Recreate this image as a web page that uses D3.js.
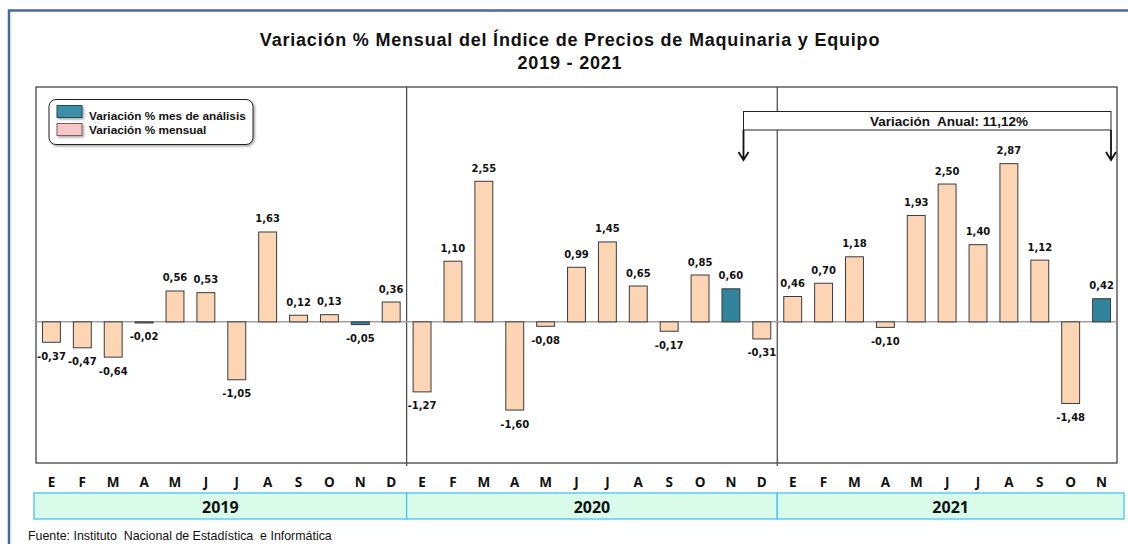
<!DOCTYPE html>
<html>
<head>
<meta charset="utf-8">
<script src="https://cdn.jsdelivr.net/npm/d3@7"></script>
<style>
  body { margin: 0; background: #fff; }
  svg { display: block; }
</style>
</head>
<body>
<div class="chart"></div>
<script>
// 月份與年份
const years = ['2019', '2020', '2021'];
const monthsByYear = [
  ['E', 'F', 'M', 'A', 'M', 'J', 'J', 'A', 'S', 'O', 'N', 'D'],
  ['E', 'F', 'M', 'A', 'M', 'J', 'J', 'A', 'S', 'O', 'N', 'D'],
  ['E', 'F', 'M', 'A', 'M', 'J', 'J', 'A', 'S', 'O', 'N'],
];
// 每月變動率 %
const values2019 = [-0.37, -0.47, -0.64, -0.02, 0.56, 0.53, -1.05, 1.63, 0.12, 0.13, -0.05, 0.36];
const values2020 = [-1.27, 1.10, 2.55, -1.60, -0.08, 0.99, 1.45, 0.65, -0.17, 0.85, 0.60, -0.31];
const values2021 = [0.46, 0.70, 1.18, -0.10, 1.93, 2.50, 1.40, 2.87, 1.12, -1.48, 0.42];
// 分析月份 (N)
const analysisMonth = 'N';
const annualLabel = 'Variación  Anual: 11,12%';

const title1 = 'Variación % Mensual del Índice de Precios de Maquinaria y Equipo';
const title2 = '2019 - 2021';
const legendItems = ['Variación % mes de análisis', 'Variación % mensual'];
const source = 'Fuente: Instituto  Nacional de Estadística  e Informática';

const allValues = [values2019, values2020, values2021];
const data = [];
allValues.forEach((vals, yi) => {
  vals.forEach((v, mi) => {
    data.push({
      idx: data.length,
      year: years[yi],
      month: monthsByYear[yi][mi],
      value: v,
    });
  });
});

const W = 1128, H = 544;
const plot = { left: 36, right: 1117, top: 87, bottom: 463 };

const svg = d3
  .select('.chart')
  .append('svg')
  .attr('width', W)
  .attr('height', H);

// 外框 (只有上、左)
svg.append('path')
  .attr('d', `M9,${H} V10.5 H${W}`)
  .attr('fill', 'none')
  .attr('stroke', '#46699c')
  .attr('stroke-width', 2.5);

const x = d3
  .scaleBand()
  .domain(data.map((d) => d.idx))
  .range([plot.left, plot.right])
  .paddingInner(0.42)
  .paddingOuter(0.21);

const y = d3.scaleLinear().domain([-2.56, 4.26]).range([plot.bottom, plot.top]);

// 標題
svg.append('text')
  .attr('x', 570).attr('y', 46)
  .attr('text-anchor', 'middle')
  .style('font', 'bold 18px "Liberation Sans", Arial, sans-serif')
  .style('letter-spacing', '0.8px')
  .attr('fill', '#111')
  .text(title1);
svg.append('text')
  .attr('x', 570).attr('y', 69)
  .attr('text-anchor', 'middle')
  .style('font', 'bold 18px "Liberation Sans", Arial, sans-serif')
  .style('letter-spacing', '0.8px')
  .attr('fill', '#111')
  .text(title2);

// 繪圖區框線
svg.append('rect')
  .attr('x', plot.left).attr('y', plot.top)
  .attr('width', plot.right - plot.left)
  .attr('height', plot.bottom - plot.top)
  .attr('fill', 'none')
  .attr('stroke', '#333')
  .attr('stroke-width', 1.2);

// 年份分隔線
const step = x.step();
const yearStarts = [0, 12, 24];
[12, 24].forEach((k) => {
  const xx = plot.left + k * step;
  svg.append('line')
    .attr('x1', xx).attr('x2', xx)
    .attr('y1', plot.top).attr('y2', plot.bottom + 3)
    .attr('stroke', '#444')
    .attr('stroke-width', 1.2);
});

// 零線
svg.append('line')
  .attr('x1', plot.left).attr('x2', plot.right)
  .attr('y1', y(0)).attr('y2', y(0))
  .attr('stroke', '#a0a0a0')
  .attr('stroke-width', 1.5);

// 長條
svg.selectAll('.bar')
  .data(data)
  .join('rect')
  .attr('class', 'bar')
  .attr('x', (d) => x(d.idx))
  .attr('width', x.bandwidth())
  .attr('y', (d) => y(Math.max(0, d.value)))
  .attr('height', (d) => Math.abs(y(d.value) - y(0)))
  .attr('fill', (d) => (d.month === analysisMonth ? '#31849b' : '#fcd5b4'))
  .attr('stroke', '#3c3c3c')
  .attr('stroke-width', 1);

// 數值標籤
const fmt = (v) => v.toFixed(2).replace('.', ',');
svg.selectAll('.val')
  .data(data)
  .join('text')
  .attr('class', 'val')
  .attr('x', (d) => x(d.idx) + x.bandwidth() / 2)
  .attr('y', (d) => (d.value >= 0 ? y(d.value) - 13 : y(d.value) + 14))
  .attr('dy', '0.35em')
  .attr('text-anchor', 'middle')
  .style('font', 'bold 10px "DejaVu Sans", Verdana, sans-serif')
  .attr('fill', '#111')
  .text((d) => fmt(d.value));

// 月份
svg.selectAll('.month')
  .data(data)
  .join('text')
  .attr('class', 'month')
  .attr('x', (d) => x(d.idx) + x.bandwidth() / 2)
  .attr('y', 482)
  .attr('dy', '0.35em')
  .attr('text-anchor', 'middle')
  .style('font', 'bold 13.5px "Open Sans", sans-serif')
  .attr('fill', '#111')
  .text((d) => d.month);

// 年份區塊
years.forEach((yr, i) => {
  const n = monthsByYear[i].length;
  const x0 = plot.left + yearStarts[i] * step - (i === 0 ? 2 : 0);
  const x1 = plot.left + (yearStarts[i] + n) * step + (i === years.length - 1 ? 7 : 0);
  svg.append('rect')
    .attr('x', x0).attr('y', 493)
    .attr('width', x1 - x0).attr('height', 26)
    .attr('fill', '#d9fcea')
    .attr('stroke', '#49c2f0')
    .attr('stroke-width', 1.3);
  svg.append('text')
    .attr('x', (x0 + x1) / 2).attr('y', 507)
    .attr('dy', '0.35em')
    .attr('text-anchor', 'middle')
    .style('font', 'bold 16px "Open Sans", sans-serif')
    .attr('fill', '#111')
    .text(yr);
});

// 年變動率標註
const ax0 = 743.5, ax1 = 1111;
svg.append('rect')
  .attr('x', ax0).attr('y', 111.5)
  .attr('width', ax1 - ax0).attr('height', 18.5)
  .attr('fill', '#fff')
  .attr('stroke', '#222')
  .attr('stroke-width', 1);
svg.append('text')
  .attr('x', 949).attr('y', 121)
  .attr('dy', '0.35em')
  .attr('text-anchor', 'middle')
  .style('font', 'bold 13.5px "Liberation Sans", Arial, sans-serif')
  .style('white-space', 'pre')
  .attr('fill', '#111')
  .text(annualLabel);
[ax0, ax1].forEach((xx) => {
  svg.append('path')
    .attr('d', `M${xx},130 V160 M${xx - 5},152 L${xx},160 L${xx + 5},152`)
    .attr('fill', 'none')
    .attr('stroke', '#111')
    .attr('stroke-width', 1.8);
});

// 圖例
const defs = svg.append('defs');
const shadow = defs.append('filter').attr('id', 'shadow')
  .attr('x', '-10%').attr('y', '-10%').attr('width', '130%').attr('height', '140%');
shadow.append('feDropShadow')
  .attr('dx', 1.5).attr('dy', 1.5).attr('stdDeviation', 1)
  .attr('flood-color', '#000').attr('flood-opacity', 0.35);

const lg = svg.append('g');
lg.append('rect')
  .attr('x', 49).attr('y', 99.5)
  .attr('width', 204).attr('height', 45)
  .attr('rx', 7)
  .attr('fill', '#fff')
  .attr('stroke', '#222')
  .attr('stroke-width', 1)
  .attr('filter', 'url(#shadow)');
const swatchFill = ['#3a8ea6', '#f6c6c6'];
const swatchStroke = ['#234f5c', '#7a5c5c'];
legendItems.forEach((t, i) => {
  lg.append('rect')
    .attr('x', 57).attr('y', 105.5 + i * 18)
    .attr('width', 25).attr('height', 12)
    .attr('fill', swatchFill[i])
    .attr('stroke', swatchStroke[i])
    .attr('stroke-width', 1)
    .attr('filter', 'url(#shadow)');
  lg.append('text')
    .attr('x', 89).attr('y', 116 + i * 14)
    .attr('dy', '0.35em')
    .style('font', 'bold 11.8px "Liberation Sans", Arial, sans-serif')
    .attr('fill', '#111')
    .text(t);
});

// 資料來源
svg.append('text')
  .attr('x', 28).attr('y', 536)
  .attr('dy', '0.35em')
  .style('font', '12.4px "Liberation Sans", Arial, sans-serif')
  .style('white-space', 'pre')
  .attr('fill', '#111')
  .text(source);
</script>
</body>
</html>
